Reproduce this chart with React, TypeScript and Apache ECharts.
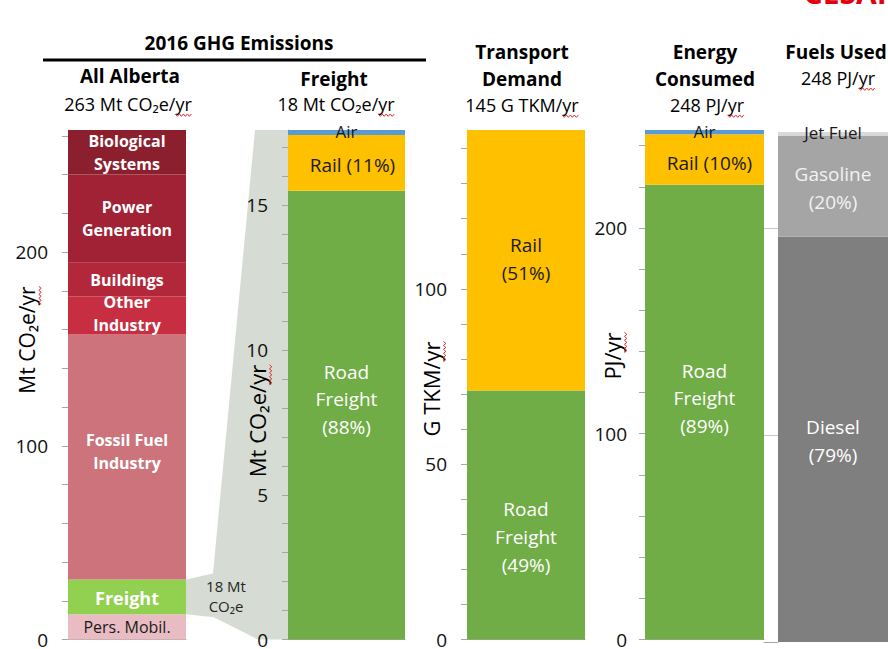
import React, { useEffect, useRef } from "react";
import * as echarts from "echarts";

const FONT = "'Open Sans', 'Noto Sans', sans-serif";

// ---------- data ----------
// All Alberta 2016 GHG emissions, Mt CO2e/yr (bottom to top)
const albertaSectors = [
  "Pers. Mobil.",
  "Freight",
  "Fossil Fuel\nIndustry",
  "Other\nIndustry",
  "Buildings",
  "Power\nGeneration",
  "Biological\nSystems",
];
const albertaValues = [13, 18, 126.5, 19.5, 17.5, 45.5, 23];

// Freight emissions, Mt CO2e/yr
const freightModes = ["Road\nFreight\n(88%)", "Rail (11%)", "Air"];
const freightValues = [15.5, 1.93, 0.17];

// Transport demand, G TKM/yr
const demandModes = ["Road\nFreight\n(49%)", "Rail\n(51%)"];
const demandValues = [71, 74.3];

// Energy consumed, PJ/yr
const energyModes = ["Road\nFreight\n(89%)", "Rail (10%)", "Air"];
const energyValues = [221, 24.5, 2.1];

// Fuels used, PJ/yr
const fuelTypes = ["Diesel\n(79%)", "Gasoline\n(20%)", "Jet Fuel"];
const fuelValues = [196, 49, 1.6];

// tick marks and tick labels
const albertaTicks = [0, 20, 40, 60, 80, 100, 120, 140, 160, 180, 200, 220, 240, 260];
const albertaTickLabels = [0, 100, 200];
const freightTicks = [0, 1, 2, 3, 4, 5, 6, 7, 8, 9, 10, 11, 12, 13, 14, 15, 16, 17];
const freightTickLabels = [0, 5, 10, 15];
const demandTicks = [0, 10, 20, 30, 40, 50, 60, 70, 80, 90, 100, 110, 120, 130, 140];
const demandTickLabels = [0, 50, 100];
const energyTicks = [0, 20, 40, 60, 80, 100, 120, 140, 160, 180, 200, 220, 240];
const energyTickLabels = [0, 100, 200];
const energyGridLines = [100, 200];

// ---------- styles ----------
const albertaColors = ["#E9BCC3", "#92D050", "#CC737B", "#C72E41", "#B3273A", "#A12234", "#8C1F2E"];
const modeColors = ["#70AD47", "#FFC000", "#5B9BD5"];
const fuelColors = ["#7F7F7F", "#A5A5A5", "#D9D9D9"];
const AXIS = "#A6A6A6";
const DARK = "#1A1A1A";
const SQUIGGLE = "#E0302A";

const GRID_TOP = 130;
const GRID_H = 512;
const gridBoxes = [
  { left: 68, width: 118 },
  { left: 288, width: 117 },
  { left: 467, width: 118 },
  { left: 645, width: 119 },
  { left: 764, width: 14 },
  { left: 778, width: 119 },
];

const sum = (a: number[]) => a.reduce((s, v) => s + v, 0);

let measureCtx: CanvasRenderingContext2D | null = null;
function measure(text: string, font: string) {
  if (!measureCtx) measureCtx = document.createElement("canvas").getContext("2d");
  if (!measureCtx) return text.length * 9;
  measureCtx.font = font;
  return measureCtx.measureText(text).width;
}

type LabelStyle = {
  color: string;
  fontSize: number;
  fontWeight?: string;
  lineHeight?: number;
  offset?: number[];
};

function stackSeries(
  names: string[],
  values: number[],
  colors: string[],
  idx: number,
  labels: LabelStyle[]
) {
  return names.map((n, i) => ({
    type: "bar",
    name: n,
    xAxisIndex: idx,
    yAxisIndex: idx,
    stack: "s" + idx,
    barWidth: "100%",
    data: [values[i]],
    itemStyle: { color: colors[i] },
    label: {
      show: true,
      position: "inside",
      formatter: n,
      fontFamily: FONT,
      fontWeight: "normal",
      ...labels[i],
    },
  }));
}

function valueAxis(idx: number, max: number, ticks: number[], labels: number[], margin: number) {
  return {
    gridIndex: idx,
    type: "value",
    min: 0,
    max,
    axisLine: { show: true, lineStyle: { color: AXIS, width: 1 } },
    axisTick: { show: true, length: 6, customValues: ticks, lineStyle: { color: AXIS } },
    axisLabel: {
      customValues: labels,
      margin,
      fontSize: 19,
      lineHeight: 14,
      color: "#111",
      fontFamily: FONT,
    },
    splitLine: { show: false },
  };
}

function fontOf(size: number, bold: boolean) {
  return `${bold ? "bold " : ""}${size}px ${FONT}`;
}

function txt(
  text: string,
  x: number,
  y: number,
  size: number,
  bold = false,
  rotation = 0,
  fill = "#000"
) {
  return {
    type: "text",
    x,
    y,
    rotation,
    z: 10,
    style: {
      text,
      fill,
      font: fontOf(size, bold),
      textAlign: "center",
      textVerticalAlign: "middle",
      align: "center",
      verticalAlign: "middle",
    },
  };
}

// red spell-check wave under the trailing "yr" of a text
function wave(a: number, b: number, c: number, vertical: boolean) {
  const pts: number[][] = [];
  let k = 0;
  for (let p = a; p <= b + 0.01; p += 2, k++) {
    const off = k % 2 === 0 ? -1.2 : 1.2;
    pts.push(vertical ? [c + off, p] : [p, c + off]);
  }
  return {
    type: "polyline",
    z: 11,
    shape: { points: pts },
    style: { stroke: SQUIGGLE, lineWidth: 1, fill: null },
  };
}

function txtYr(text: string, x: number, y: number, size: number, rotated = false) {
  const f = fontOf(size, false);
  const w = measure(text, f);
  const wy = measure("yr", f);
  const items: any[] = [txt(text, x, y, size, false, rotated ? Math.PI / 2 : 0)];
  if (!rotated) {
    items.push(wave(x + w / 2 - wy, x + w / 2, y + size * 0.62, false));
  } else {
    items.push(wave(y - w / 2, y - w / 2 + wy, x + size * 0.62, true));
  }
  return items;
}

export default function App() {
  const ref = useRef<HTMLDivElement>(null);

  useEffect(() => {
    const chart = echarts.init(ref.current!, null, { renderer: "svg" });

    const albertaTotal = sum(albertaValues);
    const freightTotal = sum(freightValues);
    const demandTotal = sum(demandValues);
    const energyTotal = sum(energyValues);

    const white = (fs: number, bold = false, off = [0, 0], lh = 23): LabelStyle => ({
      color: "#fff",
      fontSize: fs,
      fontWeight: bold ? "bold" : "normal",
      lineHeight: lh,
      offset: off,
    });

    const series: any[] = [
      ...stackSeries(albertaSectors, albertaValues, albertaColors, 0, [
        { color: DARK, fontSize: 16, offset: [0, 0] },
        white(18, true, [0, 1]),
        white(16, true, [0, -5]),
        white(16, true, [0, -2]),
        white(16, true, [0, 0]),
        white(16, true, [0, 0]),
        white(16, true, [0, 0]),
      ]),
      ...stackSeries(freightModes, freightValues, modeColors, 1, [
        white(19, false, [0, -16], 27.5),
        { color: DARK, fontSize: 19, offset: [6, 2] },
        { color: DARK, fontSize: 17, offset: [0, -1] },
      ]),
      ...stackSeries(demandModes, demandValues, modeColors, 2, [
        white(19, false, [0, 22], 28),
        { color: DARK, fontSize: 19, lineHeight: 28, offset: [0, -1] },
      ]),
      ...stackSeries(energyModes, energyValues, modeColors, 3, [
        white(19, false, [0, -14], 27.5),
        { color: DARK, fontSize: 19, offset: [5, 3] },
        { color: DARK, fontSize: 17, offset: [0, -1] },
      ]),
      ...stackSeries(fuelTypes, fuelValues, fuelColors, 5, [
        white(19, false, [0, 2], 28),
        { color: "#F2F2F2", fontSize: 19, lineHeight: 28, offset: [0, 2] },
        { color: DARK, fontSize: 17, offset: [0, -1] },
      ]),
    ];

    const option: any = {
      animation: false,
      backgroundColor: "#fff",
      grid: gridBoxes.map((g) => ({ ...g, top: GRID_TOP, height: GRID_H, containLabel: false })),
      xAxis: gridBoxes.map((_, i) => ({
        gridIndex: i,
        type: "category",
        data: [""],
        show: i !== 5,
        axisLine: { show: true, lineStyle: { color: AXIS } },
        axisTick: { show: false },
        axisLabel: { show: false },
      })),
      yAxis: [
        valueAxis(0, albertaTotal, albertaTicks, albertaTickLabels, 20),
        valueAxis(1, freightTotal, freightTicks, freightTickLabels, 20),
        valueAxis(2, demandTotal, demandTicks, demandTickLabels, 20),
        valueAxis(3, energyTotal, energyTicks, energyTickLabels, 18),
        {
          gridIndex: 4,
          type: "value",
          min: 0,
          max: energyTotal,
          axisLine: { show: false },
          axisTick: { show: false },
          axisLabel: { show: false },
          splitLine: {
            show: true,
            customValues: energyGridLines,
            showMinLine: false,
            showMaxLine: false,
            lineStyle: { color: "#C8C8C8", width: 1 },
          },
          interval: 100,
        },
        { gridIndex: 5, type: "value", min: 0, max: energyTotal, show: false },
      ],
      series,
    };

    chart.setOption(option);

    // connector between the Freight slice and the Freight panel
    const yFreightBottom = chart.convertToPixel({ yAxisIndex: 0 }, albertaValues[0]) as number;
    const yFreightTop = chart.convertToPixel(
      { yAxisIndex: 0 },
      albertaValues[0] + albertaValues[1]
    ) as number;
    const yPanelTop = chart.convertToPixel({ yAxisIndex: 1 }, freightTotal) as number;
    const yPanelBottom = chart.convertToPixel({ yAxisIndex: 1 }, 0) as number;
    const xa = gridBoxes[0].left + gridBoxes[0].width;
    const xb = gridBoxes[1].left;

    const graphics: any[] = [
      {
        type: "polygon",
        z: 0,
        shape: {
          points: [
            [xa, yFreightTop],
            [xa + 27, yFreightTop - 6],
            [xb - 33, yPanelTop],
            [xb, yPanelTop],
            [xb, yPanelBottom],
            [xb - 30, yPanelBottom],
            [xa + 28, yFreightBottom + 3],
            [xa, yFreightBottom],
          ],
        },
        style: { fill: "#D6DCD4" },
      },
      txt("18 Mt", xa + 40, (yFreightTop + yFreightBottom) / 2 - 11, 15, false, 0, "#262626"),
      txt("CO₂e", xa + 40, (yFreightTop + yFreightBottom) / 2 + 9, 15, false, 0, "#262626"),
      // headings
      txt("2016 GHG Emissions", 239, 43, 19, true),
      {
        type: "line",
        z: 10,
        shape: { x1: 43, y1: 60, x2: 426, y2: 60 },
        style: { stroke: "#000", lineWidth: 3 },
      },
      txt("All Alberta", 130, 76, 19, true),
      ...txtYr("263 Mt CO₂e/yr", 128, 104, 18),
      txt("Freight", 334, 79, 19, true),
      ...txtYr("18 Mt CO₂e/yr", 336, 104, 18),
      txt("Transport", 522, 52, 19, true),
      txt("Demand", 522, 79, 19, true),
      ...txtYr("145 G TKM/yr", 522, 105, 18),
      txt("Energy", 705, 52, 19, true),
      txt("Consumed", 705, 79, 19, true),
      ...txtYr("248 PJ/yr", 707, 105, 18),
      txt("Fuels Used", 836, 52, 19, true),
      ...txtYr("248 PJ/yr", 838, 78, 18),
      // axis names
      ...txtYr("Mt CO₂e/yr", 27, 340, 21, true),
      ...txtYr("Mt CO₂e/yr", 257, 421, 22, true),
      ...txtYr("G TKM/yr", 431, 389, 22, true),
      ...txtYr("PJ/yr", 612, 356, 22, true),
      // logo (cut off at the top edge)
      txt("CESAR", 850, -8, 30, true, 0, "#E3000F"),
    ];

    chart.setOption({ graphic: graphics });

    return () => chart.dispose();
  }, []);

  return (
    <div
      ref={ref}
      style={{ position: "absolute", left: 0, top: 0, width: 888, height: 649, background: "#fff" }}
    />
  );
}
